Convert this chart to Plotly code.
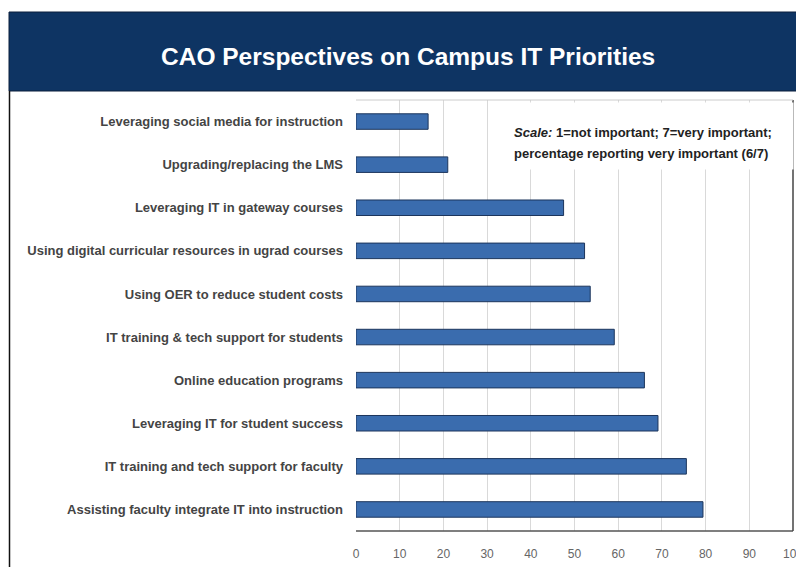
import plotly.graph_objects as go

categories = [
    "Leveraging social media for instruction",
    "Upgrading/replacing the LMS",
    "Leveraging IT in gateway courses",
    "Using digital curricular resources in ugrad courses",
    "Using OER to reduce student costs",
    "IT training & tech support for students",
    "Online education programs",
    "Leveraging IT for student success",
    "IT training and tech support for faculty",
    "Assisting faculty integrate IT into instruction",
]
values = [16.5, 21.0, 47.5, 52.3, 53.6, 59.1, 66.0, 69.1, 75.6, 79.4]
x_ticks = [0, 10, 20, 30, 40, 50, 60, 70, 80, 90, 100]

title_text = "CAO Perspectives on Campus IT Priorities"
note_line1 = "<i>Scale:</i> 1=not important; 7=very important;"
note_line2 = "percentage reporting very important (6/7)"

FONT = "Liberation Sans, Arial, sans-serif"

fig = go.Figure(go.Bar(
    x=values, y=categories, orientation="h", width=0.36,
    marker=dict(color="#3a6cae", line=dict(color="#1c355c", width=1)),
    hoverinfo="x+y",
))

# the page has an 8px body margin, so the figure is drawn at (8, 8)
OFF = 8
W, H = 796, 559
L, R, T, B = 348, 11, 92, 36
pw, ph = W - L - R, H - T - B

def px(page_x):
    return (page_x - OFF - L) / pw

def py(page_y):
    return (H - B - (page_y - OFF)) / ph

shapes = [
    # header band
    dict(type="rect", xref="paper", yref="paper", x0=px(9), x1=px(806), y0=py(91), y1=py(12),
         fillcolor="#0e3463", line=dict(color="#0a1f3c", width=1), layer="above"),
    # left outer border
    dict(type="line", xref="paper", yref="paper", x0=px(9.5), x1=px(9.5), y0=py(91), y1=py(570),
         line=dict(color="#111111", width=1.5)),
    # plot frame bottom / right / top
    dict(type="line", xref="paper", yref="paper", x0=0, x1=1, y0=0, y1=0,
         line=dict(color="#555555", width=1.5)),
    dict(type="line", xref="paper", yref="paper", x0=1, x1=1, y0=0, y1=1,
         line=dict(color="#444444", width=1.5)),
    dict(type="line", xref="paper", yref="paper", x0=0, x1=1, y0=1, y1=1,
         line=dict(color="#cccccc", width=1)),
]

annotations = [
    dict(text="<b>" + title_text + "</b>", xref="paper", yref="paper", x=px(408), y=py(56),
         xanchor="center", yanchor="middle", showarrow=False,
         font=dict(family=FONT, size=24.5, color="white")),
    # white panel behind the note (hides gridlines)
    dict(text=" ", xref="paper", yref="paper", x=px(502), y=py(101.5),
         xanchor="left", yanchor="top", showarrow=False, width=290, height=66,
         bgcolor="white", borderpad=0),
    dict(text=note_line1, xref="paper", yref="paper", x=px(512), y=py(133),
         xanchor="left", yanchor="middle", align="left", showarrow=False,
         font=dict(family=FONT, size=13, color="#222222", weight="bold")),
    dict(text=note_line2, xref="paper", yref="paper", x=px(512), y=py(153),
         xanchor="left", yanchor="middle", align="left", showarrow=False,
         font=dict(family=FONT, size=13, color="#222222", weight="bold")),
]

fig.update_layout(
    width=W, height=H,
    margin=dict(l=L, r=R, t=T, b=B),
    paper_bgcolor="white", plot_bgcolor="white",
    showlegend=False,
    shapes=shapes,
    annotations=annotations,
    xaxis=dict(range=[0, 100], tickvals=x_ticks, ticktext=[str(v) for v in x_ticks],
               showgrid=True, gridcolor="#d9d9d9", gridwidth=1, zeroline=False,
               showline=False, ticks="", ticklabelstandoff=14, automargin=False,
               ticklabeloverflow="allow",
               tickfont=dict(family=FONT, size=12, color="#666666")),
    yaxis=dict(autorange="reversed", showgrid=False, showline=False, ticks="",
               ticklabelstandoff=12, automargin=False,
               tickfont=dict(family=FONT, size=13, color="#444444", weight="bold")),
)

fig.write_html("out.html")
